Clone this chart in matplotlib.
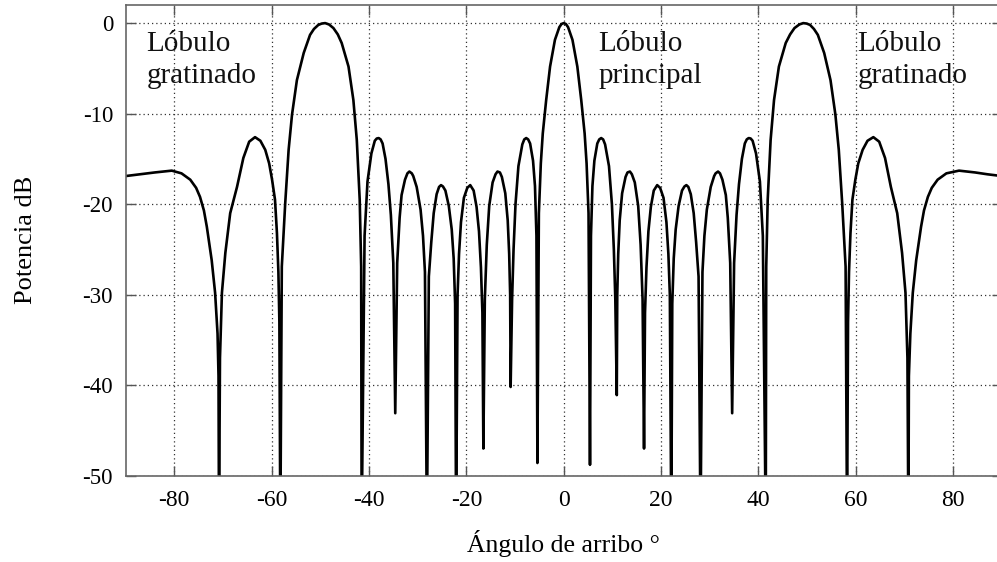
import numpy as np
import matplotlib
matplotlib.use("Agg")
import matplotlib.pyplot as plt

# ---- data (angle in degrees, power in dB) ----
angles_left = [
    -90.0, -87.0, -84.0, -80.5, -78.5, -76.7, -75.5, -74.7, -73.9, -73.3,
    -72.3, -71.6, -71.1, -70.9, -70.8, -70.6, -70.2, -69.5, -68.5, -67.1,
    -65.8, -64.6, -63.4, -62.3, -61.3, -60.5, -59.9, -59.3, -58.9, -58.6,
    -58.4, -58.2, -57.9, -57.2, -56.5, -55.8, -54.8, -53.4, -52.1, -51.3,
    -50.4, -49.7, -49.0, -48.2, -47.3, -46.4, -45.6, -44.2, -43.2, -42.5,
    -41.9, -41.6, -41.5, -40.9, -40.3, -39.5, -38.8, -38.4, -38.0, -37.6,
    -37.2, -36.6, -36.0, -35.5, -35.0, -34.6, -34.2, -33.7, -33.3, -32.6,
    -32.1, -31.7, -31.2, -30.9, -30.2, -29.4, -28.9, -28.5, -28.1, -27.7,
    -27.2, -26.7, -26.1, -25.6, -25.2, -24.8, -24.3, -23.6, -23.0, -22.6,
    -22.3, -22.1, -21.8, -21.5, -21.1, -20.5, -19.8, -19.2, -18.5, -17.9,
    -17.4, -17.0, -16.7, -16.5, -16.2, -15.8, -15.3, -14.6, -14.0, -13.6,
    -13.1, -12.7, -12.0, -11.5, -11.2, -11.0, -10.9, -10.6, -10.3, -9.9,
    -9.3, -8.5, -8.1, -7.7, -7.3, -6.9, -6.3, -5.9, -5.6, -5.4,
    -5.1, -4.7, -4.3, -3.6, -2.8, -1.8, -0.9, -0.45, 0.0,
]
power_left = [
    -16.9, -16.7, -16.5, -16.3, -16.6, -17.3, -18.2, -19.2, -20.7, -22.5,
    -26.2, -29.8, -34.3, -39.0, -56.0, -37.0, -29.8, -25.4, -21.0, -18.1,
    -14.9, -13.1, -12.6, -13.0, -14.0, -15.5, -17.3, -19.5, -23.2, -27.5,
    -33.0, -56.0, -26.9, -19.9, -14.0, -10.1, -6.3, -3.3, -1.3, -0.65,
    -0.2, -0.05, 0.0, -0.15, -0.55, -1.25, -2.2, -4.8, -8.5, -12.9,
    -19.5, -26.9, -56.0, -23.5, -17.5, -14.4, -13.0, -12.75, -12.7, -12.85,
    -13.3, -15.0, -17.8, -21.2, -26.5, -43.1, -26.5, -21.5, -19.0, -17.3,
    -16.6, -16.4, -16.6, -16.9, -18.1, -20.6, -23.5, -27.5, -56.0, -28.0,
    -24.2, -21.0, -18.9, -18.1, -17.9, -18.05, -18.5, -20.2, -22.8, -26.0,
    -31.0, -56.0, -30.0, -25.5, -22.0, -19.3, -18.2, -17.9, -18.5, -20.3,
    -23.0, -27.0, -32.0, -47.0, -30.5, -24.5, -20.2, -17.6, -16.7, -16.4,
    -16.5, -17.0, -18.8, -21.8, -25.5, -30.0, -40.2, -30.5, -25.0, -20.0,
    -15.8, -13.4, -12.85, -12.7, -12.85, -13.3, -15.2, -18.0, -23.5, -48.6,
    -21.0, -15.5, -12.2, -8.5, -4.8, -1.85, -0.45, -0.1, 0.0,
]
angles_right = [
    0.45, 0.9, 1.8, 2.8, 3.6, 4.3, 4.7, 5.1, 5.4, 5.6,
    5.9, 6.3, 6.9, 7.3, 7.7, 8.1, 8.5, 9.3, 9.9, 10.3,
    10.6, 10.9, 11.0, 11.2, 11.5, 12.0, 12.7, 13.1, 13.6, 14.0,
    14.6, 15.3, 15.8, 16.2, 16.5, 16.7, 17.0, 17.4, 17.9, 18.5,
    19.2, 19.8, 20.5, 21.1, 21.5, 21.8, 22.1, 22.3, 22.6, 23.0,
    23.6, 24.3, 24.8, 25.2, 25.6, 26.1, 26.7, 27.2, 27.7, 28.1,
    28.5, 28.9, 29.4, 30.2, 30.9, 31.2, 31.7, 32.1, 32.6, 33.3,
    33.7, 34.2, 34.6, 35.0, 35.5, 36.0, 36.6, 37.2, 37.6, 38.0,
    38.4, 38.8, 39.5, 40.3, 40.9, 41.5, 41.6, 41.9, 42.5, 43.2,
    44.2, 45.6, 46.5, 47.4, 48.4, 49.2, 49.9, 50.6, 51.4, 52.2,
    53.5, 54.8, 55.8, 56.5, 57.2, 57.9, 58.2, 58.4, 58.6, 58.9,
    59.3, 59.9, 60.5, 61.4, 62.4, 63.6, 64.8, 66.0, 67.2, 68.5,
    69.5, 70.2, 70.6, 70.8, 70.9, 71.2, 71.7, 72.4, 73.4, 74.0,
    74.8, 75.6, 76.8, 78.6, 81.2, 84.5, 87.0, 90.0,
]
power_right = [
    -0.1, -0.45, -1.85, -4.8, -8.5, -12.2, -15.5, -21.0, -48.8, -23.5,
    -18.0, -15.2, -13.3, -12.85, -12.7, -12.85, -13.4, -15.8, -20.0, -25.0,
    -30.5, -41.1, -30.0, -25.5, -21.8, -18.8, -17.0, -16.5, -16.4, -16.7,
    -17.6, -20.2, -24.5, -30.5, -47.0, -32.0, -27.0, -23.0, -20.3, -18.5,
    -17.9, -18.2, -19.3, -22.0, -25.5, -30.0, -56.0, -31.0, -26.0, -22.8,
    -20.2, -18.5, -18.05, -17.9, -18.1, -18.9, -21.0, -24.2, -28.0, -56.0,
    -27.5, -23.5, -20.6, -18.1, -16.9, -16.6, -16.4, -16.6, -17.3, -19.0,
    -21.5, -26.5, -43.1, -26.5, -21.2, -17.8, -15.0, -13.3, -12.85, -12.7,
    -12.75, -13.0, -14.4, -17.5, -23.5, -56.0, -26.9, -19.5, -12.9, -8.5,
    -4.8, -2.2, -1.25, -0.55, -0.15, 0.0, -0.05, -0.2, -0.65, -1.3,
    -3.3, -6.3, -10.1, -14.0, -19.9, -26.9, -56.0, -33.0, -27.5, -23.2,
    -19.5, -17.3, -15.5, -14.0, -13.0, -12.6, -13.1, -14.9, -18.1, -21.0,
    -25.4, -29.8, -37.0, -56.0, -39.0, -34.3, -29.8, -26.2, -22.5, -20.7,
    -19.2, -18.2, -17.3, -16.6, -16.3, -16.5, -16.7, -16.9,
]
x_ticks = [-80, -60, -40, -20, 0, 20, 40, 60, 80]
y_ticks = [0, -10, -20, -30, -40, -50]
annotations = [
    ("Lóbulo\ngratinado", -85.7),
    ("Lóbulo\nprincipal", 7.1),
    ("Lóbulo\ngratinado", 60.3),
]

angles = np.array(angles_left + angles_right)
power = np.array(power_left + power_right)

plt.rcParams['font.family'] = ['Liberation Serif', 'DejaVu Serif']

fig = plt.figure(figsize=(9.97, 5.62), dpi=100)
ax = fig.add_axes([0.1259, 0.1536, 0.879, 0.8375])

ax.plot(angles, power, color='black', lw=1.9, solid_joinstyle='round')

ax.set_xlim(-90, 90)
ax.set_ylim(-50, 2)
ax.set_xticks(x_ticks)
ax.set_yticks(y_ticks)
ax.set_xticklabels([str(t) for t in x_ticks])
ax.set_yticklabels([str(t) for t in y_ticks])

ax.grid(True, color='#333333', linestyle=(0, (1.0, 2.4)), linewidth=0.9)
ax.tick_params(direction='in', length=7, width=1, color='#555555',
               top=True, right=True)
ax.tick_params(axis='x', pad=10, labelsize=17)
ax.tick_params(axis='y', pad=9, labelsize=16.5)
for s in ax.spines.values():
    s.set_color('#666666')
    s.set_linewidth(1.2)

ax.set_xlabel('Ángulo de arribo °', fontsize=18.5, labelpad=14)
ax.set_ylabel('Potencia dB', fontsize=19, labelpad=33)

for txt, xpos in annotations:
    ax.text(xpos, -0.9, txt, fontsize=21, va='top', ha='left',
            linespacing=1.3, color='#111111')

fig.savefig('out.png', dpi=100)
